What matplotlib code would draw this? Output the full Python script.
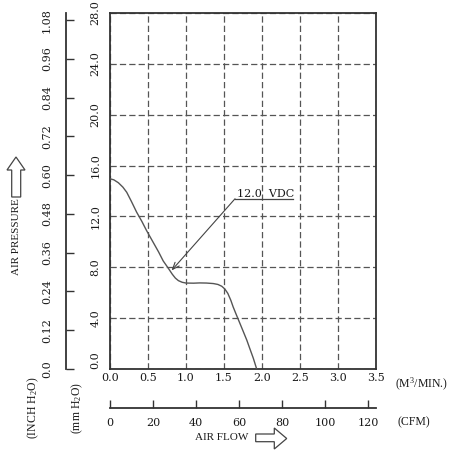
import matplotlib
matplotlib.use("Agg")
import matplotlib.pyplot as plt
from matplotlib.patches import Polygon

# ---- data ----
flow_m3min = [0.0, 0.05, 0.11, 0.17, 0.22, 0.28, 0.35, 0.42, 0.48, 0.56, 0.64, 0.70,
              0.77, 0.82, 0.86, 0.90, 0.95, 1.00, 1.10, 1.18, 1.27, 1.36, 1.42, 1.47,
              1.51, 1.55, 1.59, 1.62, 1.66, 1.71, 1.75, 1.80, 1.84, 1.886, 1.93]
pressure_mm = [14.96, 14.88, 14.65, 14.3, 13.9, 13.2, 12.34, 11.6, 10.9, 10.05, 9.2, 8.5,
               7.9, 7.45, 7.15, 6.95, 6.82, 6.76, 6.75, 6.77, 6.76, 6.72, 6.65, 6.51,
               6.3, 5.95, 5.4, 4.89, 4.3, 3.58, 3.0, 2.27, 1.6, 0.84, 0.0]

m3_ticks = [0.0, 0.5, 1.0, 1.5, 2.0, 2.5, 3.0, 3.5]
m3_labels = ["0.0", "0.5", "1.0", "1.5", "2.0", "2.5", "3.0", "3.5"]
mm_ticks = [0, 4, 8, 12, 16, 20, 24, 28]
mm_labels = ["0.0", "4.0", "8.0", "12.0", "16.0", "20.0", "24.0", "28.0"]
inch_ticks = [0.0, 0.12, 0.24, 0.36, 0.48, 0.60, 0.72, 0.84, 0.96, 1.08]
inch_labels = ["0.0", "0.12", "0.24", "0.36", "0.48", "0.60", "0.72", "0.84", "0.96", "1.08"]
cfm_ticks = [0, 20, 40, 60, 80, 100, 120]
cfm_labels = ["0", "20", "40", "60", "80", "100", "120"]
curve_label = "12.0  VDC"

MM_PER_INCH = 25.4
CFM_PER_M3MIN = 35.3147

plt.rcParams['mathtext.fontset'] = 'custom'
plt.rcParams['mathtext.rm'] = 'Liberation Serif'
plt.rcParams['mathtext.it'] = 'Liberation Serif:italic'

NUMF = 'DejaVu Serif'
WORDF = 'Liberation Serif'
TXT = '#1a1a1a'
LINE = '#333333'

W, H = 451, 450
fig = plt.figure(figsize=(W / 100, H / 100), dpi=100)

def fx(px):
    return px / W

def fy(py):
    return 1 - py / H

L, R, T, B = 110, 376, 13, 369
ax = fig.add_axes([fx(L), fy(B), (R - L) / W, (B - T) / H])
ax.set_xlim(0, 3.5)
ax.set_ylim(0, 28)

for s in ax.spines.values():
    s.set_linewidth(1.3)
    s.set_color(LINE)

ax.set_xticks(m3_ticks)
ax.set_xticklabels(m3_labels, fontfamily=NUMF, fontsize=8, color=TXT)
ax.set_yticks(mm_ticks)
ax.set_yticklabels(mm_labels, fontfamily=NUMF, fontsize=8, color=TXT, rotation=90, va='center')
ax.get_yticklabels()[0].set_va('bottom')
ax.tick_params(axis='x', length=0, pad=3)
ax.tick_params(axis='y', length=0, pad=7)

ax.grid(True, color='#555555', linewidth=0.9, linestyle=(0, (5, 2.5)))
ax.set_axisbelow(True)

ax.plot(flow_m3min, pressure_mm, color='#555555', linewidth=1.0, zorder=3,
        solid_joinstyle='round', solid_capstyle='round')

# annotation
ax.plot([1.645, 2.41], [13.39, 13.39], color='#444444', linewidth=0.9, zorder=3)
ax.annotate('', xy=(0.81, 7.75), xytext=(1.645, 13.39),
            arrowprops=dict(arrowstyle='->,head_length=0.5,head_width=0.2',
                            color='#444444', linewidth=0.8, shrinkA=0, shrinkB=0), zorder=3)
ax.text(1.667, 13.55, curve_label, fontfamily=NUMF, fontsize=8, color=TXT,
        ha='left', va='baseline', zorder=4)

# secondary inch axis
sec_y = ax.secondary_yaxis(-(L - 66) / (R - L),
                           functions=(lambda m: m / MM_PER_INCH, lambda i: i * MM_PER_INCH))
sec_y.set_yticks(inch_ticks)
sec_y.set_yticklabels(inch_labels, fontfamily=NUMF, fontsize=8, color=TXT, rotation=90, va='center')
sec_y.tick_params(direction='in', length=5.5, width=1.0, pad=10, color=LINE)
for s in sec_y.spines.values():
    s.set_linewidth(1.3)
    s.set_color(LINE)

# secondary CFM axis
sec_x = ax.secondary_xaxis(-(408 - B) / (B - T),
                           functions=(lambda x: x * CFM_PER_M3MIN, lambda c: c / CFM_PER_M3MIN))
sec_x.set_xticks(cfm_ticks)
sec_x.set_xticklabels(cfm_labels, fontfamily=NUMF, fontsize=8, color=TXT)
sec_x.tick_params(direction='in', length=5.5, width=1.0, pad=7, color=LINE)
for s in sec_x.spines.values():
    s.set_linewidth(1.3)
    s.set_color(LINE)

# figure texts
fig.text(fx(17), fy(237), "AIR PRESSURE", rotation=90, ha='center', va='center',
         fontfamily=WORDF, fontsize=8, color=TXT)
fig.text(fx(33), fy(408), "(INCH H$_2$O)", rotation=90, ha='center', va='center',
         fontfamily=WORDF, fontsize=8.5, color=TXT)
fig.text(fx(77), fy(408), "(mm H$_2$O)", rotation=90, ha='center', va='center',
         fontfamily=WORDF, fontsize=8.5, color=TXT)
fig.text(fx(422), fy(384), "(M$^3$/MIN.)", ha='center', va='center',
         fontfamily=WORDF, fontsize=8.5, color=TXT)
fig.text(fx(414), fy(422), "(CFM)", ha='center', va='center',
         fontfamily=WORDF, fontsize=8.5, color=TXT)
fig.text(fx(222), fy(438), "AIR FLOW", ha='center', va='center',
         fontfamily=WORDF, fontsize=8, color=TXT)

# hollow arrows
up = [(11.7, 197), (20.7, 197), (20.7, 170), (25, 170), (16, 157), (7, 170), (11.7, 170)]
right = [(255.7, 434), (274.3, 434), (274.3, 428), (286.7, 438.5), (274.3, 449), (274.3, 441.7), (255.7, 441.7)]
for pts in (up, right):
    fig.add_artist(Polygon([(fx(x), fy(y)) for x, y in pts], closed=True, fill=False,
                           edgecolor='#444444', linewidth=0.9, transform=fig.transFigure))

fig.savefig("out.png", dpi=100)
